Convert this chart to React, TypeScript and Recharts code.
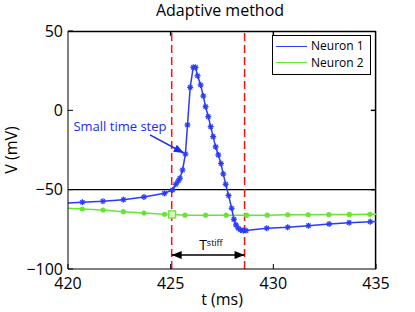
import React from 'react';
import { ComposedChart, Line, XAxis, YAxis, ReferenceLine, ReferenceDot, Legend } from 'recharts';

// temps (ms) et potentiel (mV)
const neuron1T = [419.7, 420.7, 421.7, 422.7, 423.7, 424.7, 425.09, 425.25, 425.37, 425.45, 425.58, 425.72, 425.82, 425.95, 426.1, 426.21, 426.31, 426.46, 426.59, 426.7, 426.83, 426.95, 427.07, 427.19, 427.32, 427.45, 427.56, 427.68, 427.82, 427.97, 428.08, 428.18, 428.29, 428.41, 428.54, 428.67, 429.68, 430.7, 431.71, 432.72, 433.69, 434.72, 435.7];
const neuron1V = [-58.7, -57.9, -57.3, -56.3, -54.6, -52.3, -50.2, -46.6, -44.5, -42.8, -37.6, -27.5, -9.2, 14.5, 27.1, 27.1, 21.8, 16.0, 9.0, 2.3, -4.0, -10.3, -16.6, -23.0, -28.1, -33.5, -40.1, -46.6, -53.7, -61.7, -68.7, -72.2, -74.3, -75.4, -75.8, -75.8, -74.3, -73.7, -72.7, -71.6, -70.8, -70.2, -69.6];
const neuron2T = [419.7, 420.7, 421.7, 422.7, 423.7, 424.7, 425.07, 425.7, 426.7, 427.7, 428.7, 429.7, 430.7, 431.7, 432.7, 433.7, 434.7, 435.7];
const neuron2V = [-61.6, -62.2, -62.8, -63.9, -64.7, -65.5, -65.6, -66.1, -66.1, -66.1, -66.1, -66.1, -65.8, -65.8, -65.7, -65.6, -65.5, -65.4];
const neuron2MarkedT = 425.07;

const xTicks = [420, 425, 430, 435];
const yTicks = [-100, -50, 0, 50];
const xDomain = [420, 435];
const yDomain = [-100, 50];
const stiffStart = 425.05;
const stiffEnd = 428.6;
const threshold = -50;

const FONT = '"Open Sans", sans-serif';
const BLUE = '#2a3cf5';
const GREEN = '#66e830';

const W = 415;
const H = 312;
const MARGIN = { top: 31, right: 39, bottom: 0, left: 0 };
const Y_AXIS_W = 68;
const X_AXIS_H = 43;

const series1 = neuron1T.map((t, i) => ({ t, v: neuron1V[i] }));
const series2 = neuron2T.map((t, i) => ({ t, v: neuron2V[i] }));

const legendItems = [
  { name: 'Neuron 1', color: BLUE },
  { name: 'Neuron 2', color: GREEN },
];

// marqueur "*" façon MATLAB
const StarDot = (props: any) => {
  const { cx, cy, index } = props;
  if (cx == null || cy == null) return <g key={index} />;
  const r = 3;
  const d = r * 0.7;
  return (
    <g key={index} stroke={BLUE} strokeWidth={1.3}>
      <line x1={cx - r} y1={cy} x2={cx + r} y2={cy} />
      <line x1={cx} y1={cy - r} x2={cx} y2={cy + r} />
      <line x1={cx - d} y1={cy - d} x2={cx + d} y2={cy + d} />
      <line x1={cx - d} y1={cy + d} x2={cx + d} y2={cy - d} />
    </g>
  );
};

const GreenDot = (props: any) => {
  const { cx, cy, index, payload } = props;
  if (cx == null || cy == null) return <g key={index} />;
  if (payload && payload.t === neuron2MarkedT) {
    return <rect key={index} x={cx - 3.5} y={cy - 3.5} width={7} height={7} fill="#d8f8c0" stroke={GREEN} strokeWidth={1.3} />;
  }
  return <circle key={index} cx={cx} cy={cy} r={2.6} fill={GREEN} />;
};

const arrowShape = (color: string, both: boolean) => (props: any) => {
  const { x1, y1, x2, y2 } = props;
  const ang = Math.atan2(y2 - y1, x2 - x1);
  const len = 10;
  const w = 4;
  const head = (x: number, y: number, a: number) => {
    const bx = x - len * Math.cos(a);
    const by = y - len * Math.sin(a);
    const px = -Math.sin(a) * w;
    const py = Math.cos(a) * w;
    return `${x},${y} ${bx + px},${by + py} ${bx - px},${by - py}`;
  };
  return (
    <g>
      <line x1={x1} y1={y1} x2={x2} y2={y2} stroke={color} strokeWidth={1.5} />
      <polygon points={head(x2, y2, ang)} fill={color} />
      {both && <polygon points={head(x1, y1, ang + Math.PI)} fill={color} />}
    </g>
  );
};

// trait de cadre (haut / droite) posé par segment en coordonnées de données
const frameShape = (props: any) => {
  const { x1, y1, x2, y2 } = props;
  return <line x1={x1} y1={y1} x2={x2} y2={y2} stroke="#000" strokeWidth={1.5} />;
};

const renderLegend = () => (
  <div style={{ border: '1px solid #000', background: '#fff', padding: '2px 4px 3px 3px', fontFamily: FONT, fontSize: 12, lineHeight: '16.5px', color: '#000', boxSizing: 'border-box', width: 99 }}>
    {legendItems.map((it) => (
      <div key={it.name} style={{ display: 'flex', alignItems: 'center' }}>
        <span style={{ display: 'inline-block', width: 31, borderTop: `1px solid ${it.color}`, marginRight: 4 }} />
        {it.name}
      </div>
    ))}
  </div>
);

const stiffLabel = (props: any) => {
  const { viewBox } = props;
  return (
    <text x={viewBox.x} y={viewBox.y} textAnchor="middle" fontFamily={FONT} fontSize={14} fill="#000">
      T<tspan fontSize={9} dy={-3.5}>stiff</tspan>
    </text>
  );
};

const fmt = (v: number) => String(v).replace('-', '\u2212');

const App = () => (
  <div style={{ position: 'absolute', left: 0, top: 0, width: W, height: H, background: '#fff', fontFamily: FONT }}>
    <div style={{ position: 'absolute', left: 0, top: 1, width: 440, textAlign: 'center', fontSize: 16, lineHeight: '18px', color: '#000' }}>
      Adaptive method
    </div>
    <ComposedChart width={W} height={H} margin={MARGIN}>
      <XAxis
        dataKey="t"
        type="number"
        domain={xDomain}
        ticks={xTicks}
        allowDataOverflow
        height={X_AXIS_H}
        stroke="#000"
        tickSize={-5}
        tickMargin={14}
        tick={{ fill: '#000', fontSize: 16, fontFamily: FONT }}
        label={{ value: 't (ms)', position: 'insideBottom', offset: 7.5, fill: '#000', fontSize: 16, fontFamily: FONT }}
      />
      <YAxis
        type="number"
        domain={yDomain}
        ticks={yTicks}
        allowDataOverflow
        width={Y_AXIS_W}
        stroke="#000"
        tickSize={-5}
        tickMargin={10}
        tickFormatter={fmt}
        tick={{ fill: '#000', fontSize: 16, fontFamily: FONT }}
        label={{ value: 'V (mV)', angle: -90, position: 'insideLeft', offset: 11.7, fill: '#000', fontSize: 16, fontFamily: FONT, style: { textAnchor: 'middle' } }}
      />
      {/* cadre haut et droite, légèrement à l'intérieur des bornes */}
      <ReferenceLine segment={[{ x: xDomain[0], y: yDomain[1] - 0.3 }, { x: xDomain[1], y: yDomain[1] - 0.3 }]} shape={frameShape} />
      <ReferenceLine segment={[{ x: xDomain[1] - 0.02, y: yDomain[0] }, { x: xDomain[1] - 0.02, y: yDomain[1] }]} shape={frameShape} />
      {xTicks.slice(1, -1).map((t) => (
        <ReferenceLine key={'tx' + t} segment={[{ x: t, y: yDomain[1] }, { x: t, y: yDomain[1] - 3 }]} shape={frameShape} />
      ))}
      {yTicks.slice(1, -1).map((v) => (
        <ReferenceLine key={'ty' + v} segment={[{ x: xDomain[1], y: v }, { x: xDomain[1] - 0.25, y: v }]} shape={frameShape} />
      ))}
      <ReferenceLine y={threshold} stroke="#000" strokeWidth={1.2} />
      <ReferenceLine x={stiffStart} stroke="#ff1010" strokeWidth={1.5} strokeDasharray="8 4" />
      <ReferenceLine x={stiffEnd} stroke="#ff1010" strokeWidth={1.5} strokeDasharray="8 4" />
      <Line data={series2} dataKey="v" name="Neuron 2" stroke={GREEN} strokeWidth={1.5} dot={GreenDot} isAnimationActive={false} />
      <Line data={series1} dataKey="v" name="Neuron 1" stroke={BLUE} strokeWidth={1.5} dot={StarDot} isAnimationActive={false} />
      <ReferenceLine segment={[{ x: 423.99, y: -15.5 }, { x: 425.64, y: -26.9 }]} shape={arrowShape('#1a2cf0', false)} />
      <ReferenceLine segment={[{ x: stiffStart, y: -91.1 }, { x: stiffEnd, y: -91.1 }]} shape={arrowShape('#000', true)} />
      <ReferenceDot x={422.53} y={-10.2} r={0} stroke="none" label={{ value: 'Small time step', position: 'center', fill: '#1a2cf0', fontSize: 13, fontFamily: FONT }} />
      <ReferenceDot x={426.96} y={-88} r={0} stroke="none" label={stiffLabel} />
      <Legend layout="vertical" align="center" verticalAlign="middle" wrapperStyle={{ top: 35, left: 272, width: 99 }} content={renderLegend} />
    </ComposedChart>
  </div>
);

export default App;
